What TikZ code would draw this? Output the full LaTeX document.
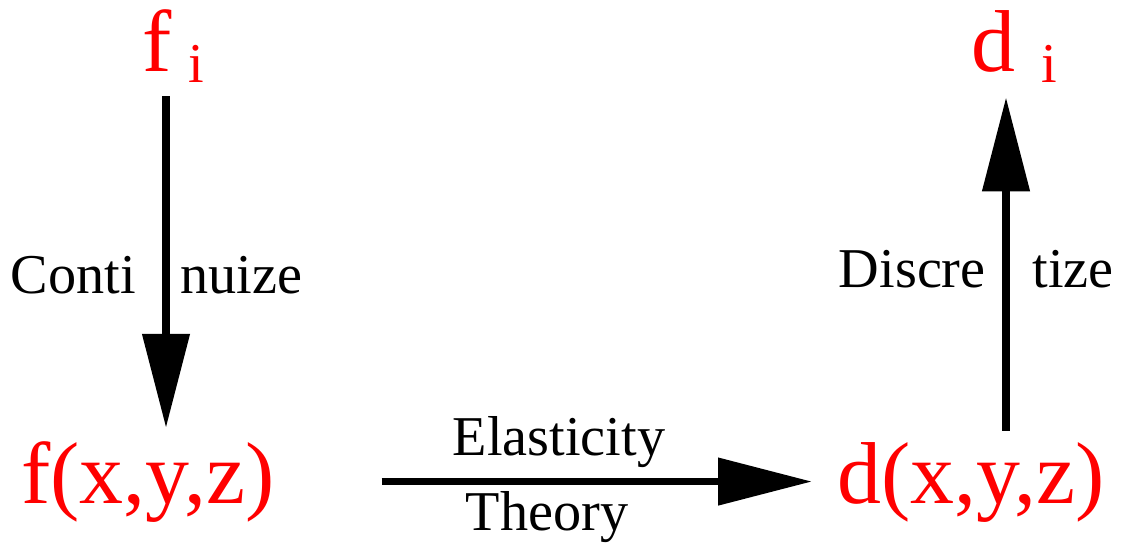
\documentclass[tikz,border=0pt]{standalone}
\usepackage{fontspec}
\setmainfont{Liberation Serif}
\usetikzlibrary{arrows.meta, calc, positioning}
\newcommand{\lowi}{\raisebox{-0.22cm}{\fontsize{32}{38}\selectfont i}}

\begin{document}
\begin{tikzpicture}[
  x=0.02cm, y=-0.02cm,
  val/.style={text=red, inner sep=0pt, font=\fontsize{50}{60}\selectfont},
  lbl/.style={inner sep=0pt, font=\fontsize{32}{38}\selectfont},
  arr/.style={-{Triangle[length=1.88cm, width=0.92cm]}, line width=4.4pt}
]
  \useasboundingbox (0,0) rectangle (1121,550);

  \node[val, anchor=base west] (fi)   at (142,72)  {f\hspace{0.34cm}\lowi};
  \node[val, anchor=base west] (fxyz) at (21,503)  {f(x,y,z)};
  \node[val, anchor=base west] (dxyz) at (837,503) {d(x,y,z)};
  \node[val, anchor=base west] (di)   at (971,72)  {d\hspace{0.52cm}\lowi};

  \coordinate (lft) at (166,0);
  \coordinate (rgt) at (1006,0);

  \draw[arr, shorten <=0.26cm, shorten >=0.26cm] (fi.south -| lft) -- (fxyz.north -| lft);
  \draw[arr, shorten <=2.14cm, shorten >=0.5cm] (fxyz.east) -- (dxyz.west |- fxyz.east);
  \draw[arr, shorten <=0.22cm, shorten >=0.28cm] (dxyz.north -| rgt) -- (di.south -| rgt);

  \node[lbl, anchor=base east] (cont1) at (136,294) {Conti};
  \node[lbl, anchor=base west] (cont2) at (180,294) {nuize};
  \node[lbl, anchor=base east] (disc1) at (986,288) {Discre};
  \node[lbl, anchor=base west] (disc2) at (1032,288) {tize};
  \node[lbl, anchor=base] (elas) at (559,455) {Elasticity};
  \node[lbl, anchor=base] (theo) at (547,530) {Theory};
\end{tikzpicture}
\end{document}
